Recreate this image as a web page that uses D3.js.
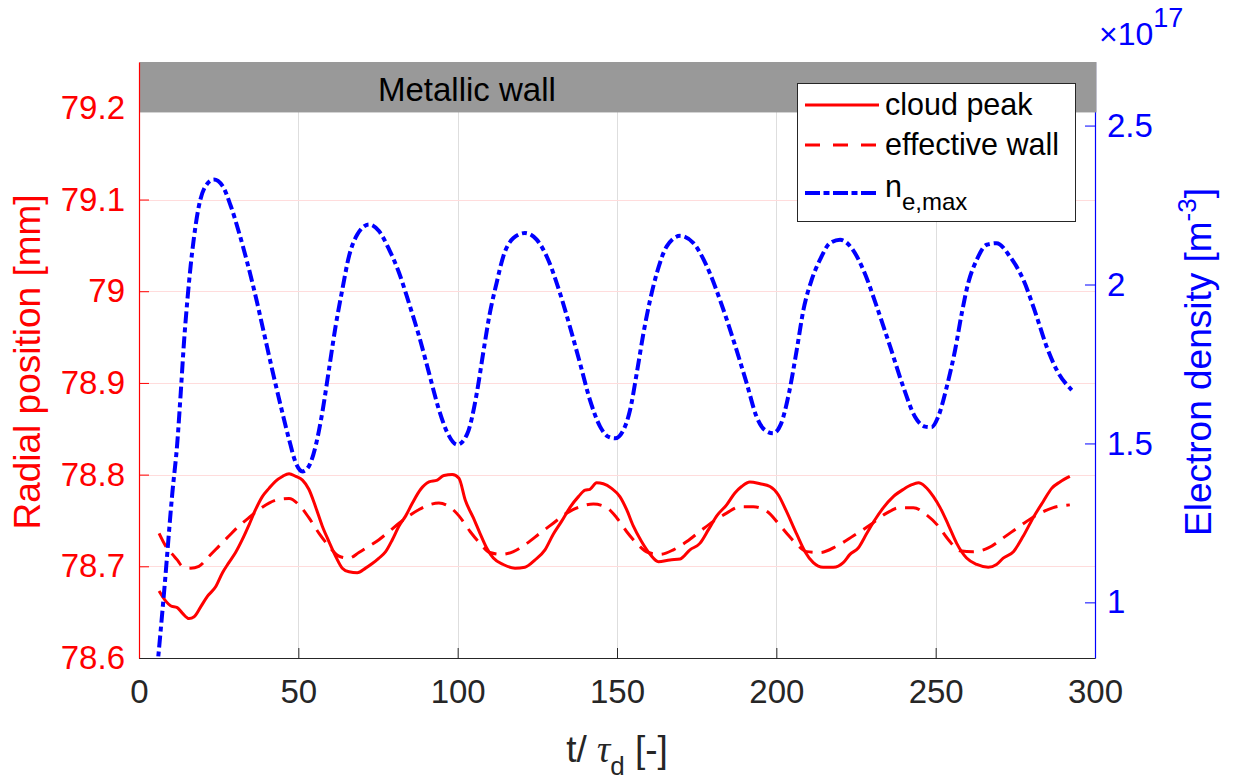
<!DOCTYPE html>
<html>
<head>
<meta charset="utf-8">
<script src="https://cdn.jsdelivr.net/npm/d3@7"></script>
<style>
  body { margin: 0; background: #fff; }
  svg { display: block; font-family: "Liberation Sans", Arial, Helvetica, sans-serif; }
</style>
</head>
<body>
<svg id="chart" width="1236" height="783"></svg>
<script>
// ---------------- DATA ----------------
const xTicks = [0, 50, 100, 150, 200, 250, 300];
const leftTicks = [78.6, 78.7, 78.8, 78.9, 79, 79.1, 79.2];
const leftTickLabels = ["78.6", "78.7", "78.8", "78.9", "79", "79.1", "79.2"];
const rightTicks = [1, 1.5, 2, 2.5];
const rightTickLabels = ["1", "1.5", "2", "2.5"];
const wallLevel = 79.195;
const legendLabels = ["cloud peak", "effective wall", "n"];

// n_e,max  (x10^17 m^-3)
const tNe = [5.6, 7.85, 10.46, 12.0, 13.1, 14.1, 15.2, 16.2, 17.3, 18.8, 20.9, 23.5, 26.2, 28.8, 31.4, 34.0, 36.6, 39.2, 41.8, 44.5, 47.1, 49.2, 51.3, 53.3, 55.4, 57.5, 59.6, 61.7, 63.8, 65.9, 68.5, 72.2, 75.3, 78.5, 81.6, 84.7, 87.9, 91.0, 94.1, 96.8, 99.9, 103.0, 106.0, 108.0, 110.1, 112.2, 114.3, 117.5, 121.1, 124.8, 128.4, 132.1, 135.2, 138.4, 141.5, 144.7, 147.3, 149.4, 152.0, 154.1, 156.2, 158.3, 160.4, 162.5, 165.6, 169.8, 174.0, 178.2, 182.3, 186.5, 190.7, 193.8, 196.4, 199.0, 201.4, 204.0, 206.4, 208.5, 211.1, 213.7, 216.8, 220.0, 223.6, 227.3, 231.5, 235.7, 239.8, 243.5, 246.7, 248.7, 250.8, 253.5, 256.1, 258.2, 260.2, 262.9, 266.0, 269.1, 273.3, 277.5, 281.7, 284.8, 288.0, 292.7];
const neMax = [0.78, 1.03, 1.344, 1.50, 1.66, 1.816, 1.953, 2.058, 2.152, 2.247, 2.31, 2.33, 2.31, 2.247, 2.163, 2.068, 1.963, 1.848, 1.732, 1.617, 1.512, 1.439, 1.412, 1.428, 1.491, 1.596, 1.732, 1.869, 1.984, 2.089, 2.157, 2.189, 2.168, 2.11, 2.037, 1.942, 1.837, 1.722, 1.607, 1.533, 1.496, 1.53, 1.658, 1.784, 1.91, 2.004, 2.088, 2.146, 2.162, 2.141, 2.078, 1.973, 1.868, 1.752, 1.637, 1.553, 1.521, 1.516, 1.542, 1.605, 1.721, 1.847, 1.952, 2.036, 2.12, 2.153, 2.13, 2.057, 1.952, 1.826, 1.689, 1.584, 1.542, 1.532, 1.56, 1.66, 1.794, 1.92, 2.015, 2.078, 2.13, 2.141, 2.115, 2.046, 1.931, 1.805, 1.679, 1.584, 1.553, 1.551, 1.584, 1.679, 1.794, 1.91, 2.004, 2.078, 2.125, 2.13, 2.088, 2.015, 1.899, 1.805, 1.731, 1.668];

// cloud peak (mm)
const tPeak = [6.3, 8.4, 9.9, 12.0, 13.6, 15.7, 17.3, 19.4, 21.4, 24.1, 26.2, 28.2, 30.3, 32.4, 34.5, 36.6, 38.7, 40.8, 42.9, 45.0, 47.1, 49.2, 51.3, 53.3, 55.4, 57.5, 59.6, 61.7, 63.8, 65.9, 68.5, 71.1, 73.2, 75.3, 77.4, 79.5, 81.6, 83.7, 85.8, 88.4, 91.0, 93.6, 95.7, 98.3, 100.4, 102.4, 104.9, 107.0, 109.1, 111.2, 114.3, 118.0, 121.1, 124.3, 127.4, 130.0, 132.6, 135.2, 137.9, 140.0, 141.5, 143.6, 145.7, 148.3, 150.9, 153.0, 155.1, 157.7, 160.4, 163.0, 166.6, 169.8, 172.9, 176.0, 178.7, 181.3, 184.4, 187.0, 189.1, 191.7, 194.9, 198.0, 200.6, 202.9, 206.4, 209.0, 211.6, 214.7, 217.9, 221.0, 223.1, 225.7, 228.4, 231.0, 233.6, 236.7, 239.9, 242.5, 244.6, 246.7, 249.3, 251.4, 254.0, 256.6, 259.7, 262.9, 266.5, 269.1, 271.2, 274.4, 277.5, 280.6, 283.8, 286.4, 289.0, 292.1];
const cloudPeak = [78.673, 78.662, 78.657, 78.655, 78.649, 78.643, 78.645, 78.656, 78.667, 78.678, 78.693, 78.704, 78.715, 78.729, 78.745, 78.762, 78.776, 78.785, 78.793, 78.798, 78.801, 78.798, 78.794, 78.784, 78.765, 78.744, 78.727, 78.711, 78.698, 78.694, 78.693, 78.698, 78.703, 78.709, 78.716, 78.729, 78.744, 78.755, 78.769, 78.784, 78.792, 78.794, 78.799, 78.800, 78.796, 78.772, 78.753, 78.736, 78.72, 78.709, 78.702, 78.698, 78.699, 78.707, 78.718, 78.735, 78.749, 78.764, 78.776, 78.783, 78.784, 78.791, 78.790, 78.785, 78.776, 78.762, 78.744, 78.727, 78.713, 78.705, 78.707, 78.708, 78.718, 78.725, 78.740, 78.755, 78.767, 78.780, 78.787, 78.792, 78.790, 78.787, 78.778, 78.762, 78.735, 78.716, 78.704, 78.699, 78.699, 78.704, 78.713, 78.72, 78.736, 78.751, 78.764, 78.776, 78.784, 78.789, 78.791, 78.787, 78.776, 78.764, 78.745, 78.725, 78.709, 78.702, 78.699, 78.702, 78.709, 78.716, 78.733, 78.753, 78.771, 78.785, 78.792, 78.798];

// effective wall (mm)
const tWall = [6.3, 8.4, 10.5, 12.0, 13.6, 16.2, 18.8, 22.0, 25.1, 28.2, 31.4, 34.5, 37.7, 40.8, 43.9, 47.1, 50.2, 53.3, 56.5, 59.6, 62.8, 65.9, 69.0, 72.2, 75.3, 78.5, 81.6, 84.7, 87.9, 91.0, 94.1, 97.8, 100.4, 103.9, 107.0, 110.1, 113.8, 117.5, 121.7, 125.8, 130.0, 134.2, 138.4, 142.6, 146.8, 149.9, 153.0, 156.2, 159.8, 163.5, 167.7, 171.9, 176.0, 180.2, 184.4, 188.6, 192.8, 197.0, 200.6, 203.5, 206.4, 209.5, 213.7, 218.9, 224.1, 229.4, 234.6, 238.8, 243.0, 247.2, 250.8, 254.0, 257.6, 261.8, 266.5, 271.2, 276.5, 281.7, 286.9, 292.1];
const effWall = [78.736, 78.722, 78.713, 78.707, 78.700, 78.698, 78.700, 78.711, 78.722, 78.733, 78.744, 78.753, 78.762, 78.769, 78.773, 78.774, 78.767, 78.753, 78.736, 78.722, 78.711, 78.709, 78.715, 78.722, 78.729, 78.738, 78.747, 78.755, 78.762, 78.767, 78.769, 78.764, 78.755, 78.738, 78.725, 78.715, 78.713, 78.716, 78.725, 78.736, 78.747, 78.758, 78.765, 78.768, 78.764, 78.753, 78.738, 78.725, 78.715, 78.713, 78.718, 78.727, 78.738, 78.749, 78.758, 78.765, 78.765, 78.760, 78.747, 78.735, 78.724, 78.716, 78.715, 78.722, 78.733, 78.745, 78.758, 78.764, 78.764, 78.756, 78.744, 78.729, 78.717, 78.716, 78.72, 78.731, 78.744, 78.756, 78.764, 78.767];

// ---------------- CHART ----------------
const RED = "#ff0000", BLUE = "#0000ff", DARK = "#262626";
const L = 139, R = 1095, T = 62, B = 658;
const svg = d3.select("#chart");

const x = d3.scaleLinear().domain([0, 300]).range([L, R]);
const yL = d3.scaleLinear().domain([78.6, 79.25]).range([B, T]);
const yR = d3.scaleLinear().domain([0.825, 2.70]).range([B, T]);

svg.append("defs").append("clipPath").attr("id", "plotclip")
  .append("rect").attr("x", L).attr("y", T).attr("width", R - L).attr("height", B - T);

// grid
const grid = svg.append("g");
grid.selectAll("line.vg").data(xTicks.filter(d => d > 0 && d < 300)).join("line")
  .attr("x1", d => Math.round(x(d)) + 0.5).attr("x2", d => Math.round(x(d)) + 0.5)
  .attr("y1", T).attr("y2", B)
  .attr("stroke", "#dedede").attr("stroke-width", 1);
grid.selectAll("line.hg").data(leftTicks.filter(d => d > 78.6)).join("line")
  .attr("x1", L).attr("x2", R)
  .attr("y1", d => Math.round(yL(d)) + 0.5).attr("y2", d => Math.round(yL(d)) + 0.5)
  .attr("stroke", "#ffdcdc").attr("stroke-width", 1);

// right axis (under gray patch)
const rAxis = d3.axisRight(yR).tickValues(rightTicks).tickFormat((d, i) => rightTickLabels[i]).tickSize(0).tickPadding(12);
const rg = svg.append("g").attr("transform", `translate(${R},0)`).call(rAxis);
rg.select(".domain").attr("stroke", BLUE).attr("stroke-width", 1.2);
rg.selectAll(".tick text").attr("fill", BLUE).attr("font-size", 33).attr("font-family", "Liberation Sans, Arial, sans-serif");
rg.selectAll(".tick").append("line").attr("x1", 0).attr("x2", -10).attr("stroke", BLUE).attr("stroke-width", 1);

// curves
const curves = svg.append("g").attr("clip-path", "url(#plotclip)");
const lineL = d3.line().x(d => x(d[0])).y(d => yL(d[1])).curve(d3.curveMonotoneX);
const lineR = d3.line().x(d => x(d[0])).y(d => yR(d[1])).curve(d3.curveMonotoneX);

curves.append("path").datum(d3.zip(tWall, effWall)).attr("d", lineL)
  .attr("fill", "none").attr("stroke", RED).attr("stroke-width", 3).attr("stroke-dasharray", "15,9");
curves.append("path").datum(d3.zip(tPeak, cloudPeak)).attr("d", lineL)
  .attr("fill", "none").attr("stroke", RED).attr("stroke-width", 3).attr("stroke-linejoin", "round");
curves.append("path").datum(d3.zip(tNe, neMax)).attr("d", lineR)
  .attr("fill", "none").attr("stroke", BLUE).attr("stroke-width", 4).attr("stroke-dasharray", "12,4,5,4");

// metallic wall patch
svg.append("rect").attr("x", L + 0.5).attr("y", T).attr("width", R + 1.5 - L - 0.5)
  .attr("height", yL(wallLevel) - T).attr("fill", "#999999");
svg.append("text").attr("x", 378).attr("y", 101).attr("font-size", 33).attr("fill", "#000")
  .text("Metallic wall");

// left axis
const lAxis = d3.axisLeft(yL).tickValues(leftTicks).tickFormat((d, i) => leftTickLabels[i]).tickSize(0).tickPadding(14);
const lg = svg.append("g").attr("transform", `translate(${L},0)`).call(lAxis);
lg.select(".domain").attr("stroke", RED).attr("stroke-width", 1.2);
lg.selectAll(".tick text").attr("fill", RED).attr("font-size", 33).attr("font-family", "Liberation Sans, Arial, sans-serif");
lg.selectAll(".tick").filter(d => yL(d) > yL(wallLevel)).append("line").attr("x1", 0).attr("x2", 10).attr("stroke", RED).attr("stroke-width", 1);

// bottom axis
const bAxis = d3.axisBottom(x).tickValues(xTicks).tickSize(0).tickPadding(22);
const bg = svg.append("g").attr("transform", `translate(0,${B})`).call(bAxis);
bg.select(".domain").attr("stroke", DARK).attr("stroke-width", 1.2);
bg.selectAll(".tick text").attr("fill", DARK).attr("font-size", 33).attr("font-family", "Liberation Sans, Arial, sans-serif");
bg.selectAll(".tick").filter(d => d > 0 && d < 300).append("line").attr("y1", 0).attr("y2", -10).attr("stroke", DARK).attr("stroke-width", 1);

// axis labels
svg.append("text").attr("transform", "translate(40,362) rotate(-90)")
  .attr("text-anchor", "middle").attr("font-size", 37).attr("fill", RED)
  .text("Radial position [mm]");

const rl = svg.append("text").attr("transform", "translate(1211,362) rotate(-90)")
  .attr("text-anchor", "middle").attr("font-size", 37).attr("fill", BLUE);
rl.append("tspan").text("Electron density [m");
rl.append("tspan").attr("font-size", 26).attr("dy", -15).text("-3");
rl.append("tspan").attr("dy", 15).text("]");

const xl = svg.append("text").attr("x", 617).attr("y", 762).attr("text-anchor", "middle")
  .attr("font-size", 37).attr("fill", DARK);
xl.append("tspan").text("t/ ");
xl.append("tspan").attr("font-style", "italic").attr("font-family", "Liberation Serif, Times New Roman, serif").text("τ");
xl.append("tspan").attr("font-size", 26).attr("dy", 13).text("d");
xl.append("tspan").attr("dy", -13).text(" [-]");

// exponent
const ex = svg.append("text").attr("x", 1099).attr("y", 45).attr("font-size", 32).attr("fill", BLUE);
ex.append("tspan").text("×10");
ex.append("tspan").attr("font-size", 27).attr("dy", -18).text("17");

// legend
const lgX = 797.5, lgY = 83.5;
const leg = svg.append("g");
leg.append("rect").attr("x", lgX).attr("y", lgY).attr("width", 278).attr("height", 138)
  .attr("fill", "#fff").attr("stroke", DARK).attr("stroke-width", 1);
const legStyles = [
  { c: RED, w: 3, dash: null, y: 105 },
  { c: RED, w: 3, dash: "15,13", y: 145 },
  { c: BLUE, w: 4, dash: "15,3.5,6,3.5", y: 193 }
];
legStyles.forEach((s, i) => {
  leg.append("line").attr("x1", 805).attr("x2", 879).attr("y1", s.y).attr("y2", s.y)
    .attr("stroke", s.c).attr("stroke-width", s.w).attr("stroke-dasharray", s.dash);
});
leg.append("text").attr("x", 885).attr("y", 115).attr("font-size", 30.5).attr("fill", "#000").text(legendLabels[0]);
leg.append("text").attr("x", 885).attr("y", 155).attr("font-size", 30.5).attr("fill", "#000").text(legendLabels[1]);
const lt3 = leg.append("text").attr("x", 885).attr("y", 197).attr("font-size", 30.5).attr("fill", "#000");
lt3.append("tspan").text(legendLabels[2]);
lt3.append("tspan").attr("font-size", 24).attr("dy", 13).text("e,max");
</script>
</body>
</html>
